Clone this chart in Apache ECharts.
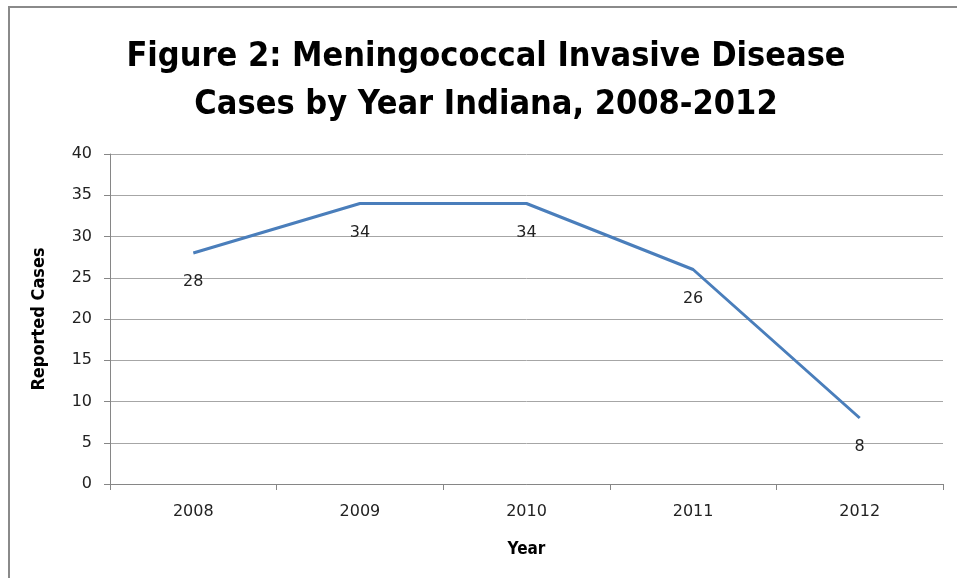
<!DOCTYPE html>
<html><head><meta charset="utf-8">
<script src="https://cdn.jsdelivr.net/npm/echarts@6/dist/echarts.min.js"></script>
<style>html,body{margin:0;padding:0;background:#fff}#c{width:957px;height:578px}</style>
</head><body><div id="c"></div>
<script>
const years = ['2008','2009','2010','2011','2012'];
const cases = [28, 34, 34, 26, 8];
const titleLines = ['Figure 2: Meningococcal Invasive Disease', 'Cases by Year Indiana, 2008-2012'];
const yTitle = 'Reported Cases';
const xTitle = 'Year';

const chart = echarts.init(document.getElementById('c'), null, {renderer:'canvas'});
const narrow = '"DejaVu Sans Condensed","Open Sans",sans-serif';
const wide = '"DejaVu Sans",sans-serif';
chart.setOption({
  animation:false,
  backgroundColor:'#fff',
  graphic:[{type:'rect', shape:{x:9,y:7,width:1000,height:1000}, style:{fill:'none', stroke:'#8a8a8a', lineWidth:2}, z:0}],
  title:{text:titleLines.join('\n'), left:486, top:33, padding:0, textAlign:'center',
    textStyle:{fontFamily:narrow, fontWeight:'bold', fontSize:34, lineHeight:48, color:'#000'}},
  grid:{left:110, right:14, top:154, bottom:94},
  xAxis:{type:'category', data:years, boundaryGap:true,
    name:xTitle, nameLocation:'middle', nameGap:57,
    nameTextStyle:{fontFamily:narrow, fontWeight:'bold', fontSize:17, color:'#000'},
    axisLine:{lineStyle:{color:'#868686', width:1}},
    axisTick:{show:true, length:6, lineStyle:{color:'#868686'}},
    axisLabel:{fontFamily:wide, fontSize:16, color:'#222', margin:20}},
  yAxis:{type:'value', min:0, max:40, interval:5,
    name:yTitle, nameLocation:'middle', nameGap:62, nameRotate:90,
    nameTextStyle:{fontFamily:narrow, fontWeight:'bold', fontSize:18, color:'#000'},
    axisLine:{show:true, lineStyle:{color:'#868686'}},
    axisTick:{show:true, length:6, lineStyle:{color:'#868686'}},
    axisLabel:{fontFamily:wide, fontSize:16, color:'#222', margin:18},
    splitLine:{lineStyle:{color:'#a6a6a6', width:1}}},
  series:[{type:'line', data:cases, showSymbol:true, symbol:'circle', symbolSize:2,
    lineStyle:{color:'#4a7ebb', width:3}, itemStyle:{color:'#4a7ebb', opacity:0},
    label:{show:true, position:'bottom', distance:20, fontFamily:wide, fontSize:16, color:'#222', opacity:1}}]
});
</script></body></html>
